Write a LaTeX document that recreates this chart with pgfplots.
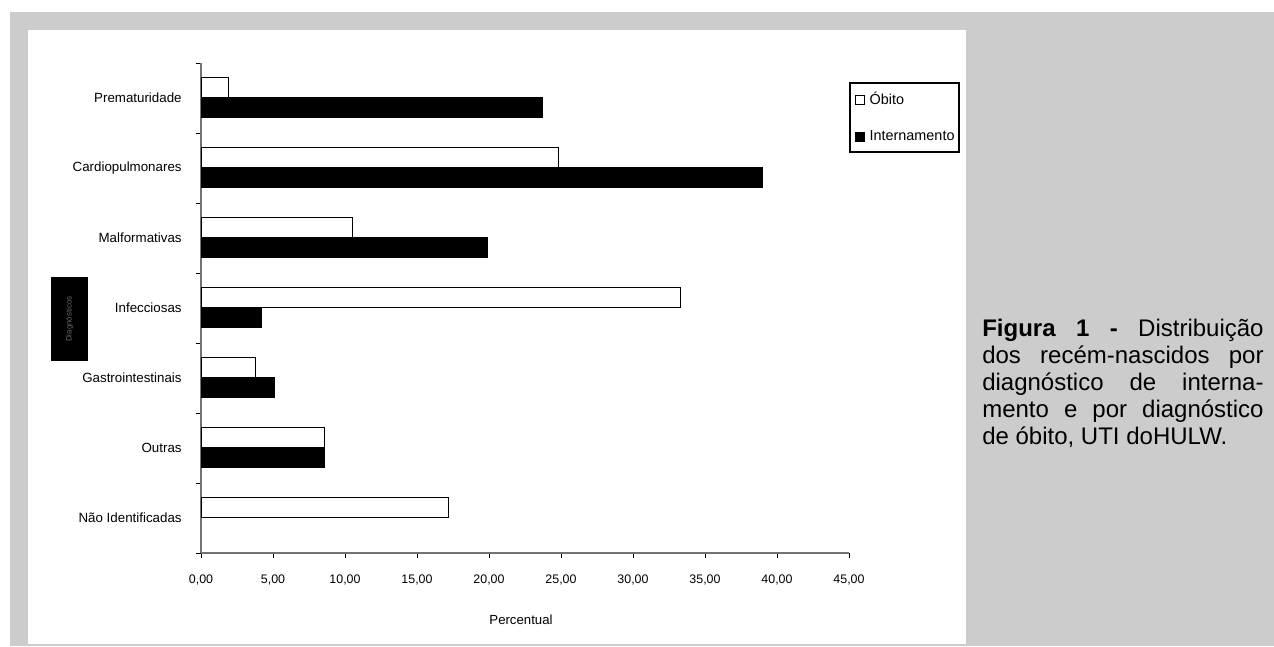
\documentclass[border=0pt]{standalone}
\usepackage{pgfplots}
\pgfplotsset{compat=1.18}
\usepackage{fontspec}
\setmainfont{Liberation Sans}
\definecolor{bggray}{HTML}{CCCCCC}

\begin{document}
\begin{tikzpicture}[x=0.75pt,y=0.75pt]
% page in pixel units: (0,0) bottom left, 1274 x 646
\useasboundingbox (0,0) rectangle (1274,646);
\fill[white] (0,0) rectangle (1274,646);
\fill[bggray] (10,0) rectangle (1274,634);
\fill[white] (28,2) rectangle (966,616);

\begin{axis}[
    at={(150.75pt,69.75pt)}, anchor=origin,
    scale only axis, width=486pt, height=367.5pt,
    xmin=0, xmax=45, ymin=0, ymax=7,
    axis x line*=bottom, axis y line*=left,
    axis line style={draw=black!55, line width=0.8pt},
    tick style={black, line width=0.6pt},
    tick align=outside, major tick length=3.5pt,
    xbar, bar width=15pt,
    xtick={0,5,...,45},
    xticklabel style={font=\fontsize{9.3}{11}\selectfont, yshift=-9pt},
    /pgf/number format/.cd, fixed, fixed zerofill, precision=2, use comma, assume math mode=true,
    /pgfplots/.cd,
    ytick={0,...,7}, yticklabels={},
    extra y ticks={0.5,1.5,2.5,3.5,4.5,5.5,6.5},
    extra y tick labels={Não Identificadas, Outras, Gastrointestinais, Infecciosas, Malformativas, Cardiopulmonares, Prematuridade},
    extra y tick style={major tick length=0pt,
        yticklabel style={font=\fontsize{10}{12}\selectfont, xshift=-11pt}},
    legend style={at={(1,0.961)}, anchor=north west, draw=black, line width=1.5pt,
        font=\fontsize{10.8}{13}\selectfont, inner xsep=1.5pt, inner ysep=5pt,
        row sep=14pt, cells={anchor=west}},
    legend image code/.code={\path (0pt,0pt);
        \draw[#1, line width=0.6pt] (2pt,-3.3pt) rectangle (8.6pt,3.3pt);
        \path (10.5pt,0pt);},
  ]
  \addplot[draw=black, fill=white, line width=0.75pt, bar shift=7.5pt] coordinates {
    (1.9,6.5) (24.8,5.5) (10.5,4.5) (33.3,3.5) (3.8,2.5) (8.6,1.5) (17.2,0.5)};
  \addlegendentry{Óbito}
  \addplot[draw=black, fill=black, line width=0.75pt, bar shift=-7.5pt] coordinates {
    (23.7,6.5) (39.0,5.5) (19.9,4.5) (4.2,3.5) (5.1,2.5) (8.55,1.5)};
  \addlegendentry{Internamento}
\end{axis}

% axis title below
\node[font=\fontsize{9.9}{12}\selectfont] at (521,26) {Percentual};

% garbled vertical axis title box
\node[fill=black, minimum width=27.75pt, minimum height=63pt, inner sep=0pt,
      text=black!60, font=\fontsize{6}{7}\selectfont] at (69.5,327)
      {\rotatebox{90}{Diagnósticos}};

% caption on the grey margin
\begin{scope}[every node/.style={anchor=base west, inner sep=0pt, font=\fontsize{18}{20.25}\selectfont}]
  \node at (982,309) {\makebox[211pt][s]{\textbf{Figura 1 -} Distribuição}};
  \node at (982,282) {\makebox[211pt][s]{dos recém-nascidos por}};
  \node at (982,255) {\makebox[211pt][s]{diagnóstico de interna-}};
  \node at (982,228) {\makebox[211pt][s]{mento e por diagnóstico}};
  \node at (982,201) {de óbito, UTI doHULW.};
\end{scope}
\end{tikzpicture}
\end{document}
